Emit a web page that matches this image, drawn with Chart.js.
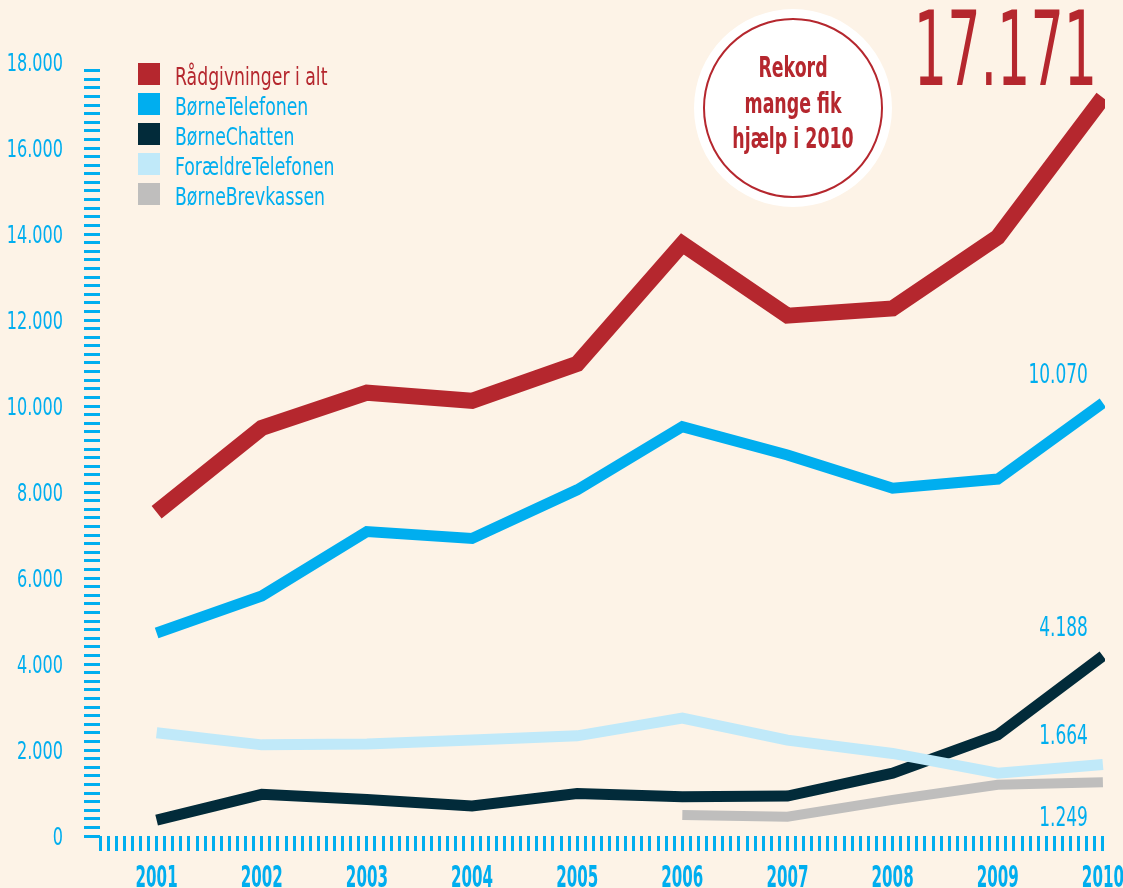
<!DOCTYPE html>
<html lang="da">
<head>
<meta charset="UTF-8" />
<title>Rådgivninger 2001-2010</title>
<script src="https://cdn.jsdelivr.net/npm/chart.js"></script>
<style>
  html, body { margin: 0; padding: 0; background: #fdf3e7; overflow: hidden; }
  #chart { display: block; }
</style>
</head>
<body>
<canvas id="chart" width="1123" height="888"></canvas>
<script>
const years = [2001, 2002, 2003, 2004, 2005, 2006, 2007, 2008, 2009, 2010];
const seriesNames = ["Rådgivninger i alt", "BørneTelefonen", "BørneChatten", "ForældreTelefonen", "BørneBrevkassen"];
const raadgivninger = [7530, 9490, 10310, 10120, 10980, 13770, 12100, 12270, 13930, 17171];
const borneTelefonen = [4720, 5580, 7080, 6920, 8050, 9520, 8860, 8090, 8300, 10070];
const borneChatten = [370, 970, 850, 700, 990, 910, 930, 1460, 2350, 4188];
const foraeldreTelefonen = [2400, 2120, 2140, 2230, 2330, 2740, 2230, 1920, 1460, 1664];
const borneBrevkassen = [null, null, null, null, null, 490, 450, 840, 1190, 1249];
const yTickLabels = ["0", "2.000", "4.000", "6.000", "8.000", "10.000", "12.000", "14.000", "16.000", "18.000"];
const calloutLines = ["Rekord", "mange fik", "hjælp i 2010"];

const RED = "#b5272e";
const CYAN = "#00aeef";
const DARK = "#022b3a";
const LIGHT = "#c0e9f9";
const GREY = "#bfbebd";
const FONT = '"DejaVu Sans Condensed", "DejaVu Sans", sans-serif';

function fmt(v) {
    return String(v).replace(/\B(?=(\d{3})+(?!\d))/g, ".");
}

function toPoints(values) {
    return years.map((yr, i) => ({ x: yr, y: values[i] }));
}

// the original uses a very narrow type, so squeeze the text sideways
function squeezed(ctx, text, x, y, sx, align) {
    ctx.save();
    ctx.translate(x, y);
    ctx.scale(sx, 1);
    ctx.textAlign = align;
    ctx.fillText(text, 0, 0);
    ctx.restore();
}

// extra drawing: tick labels, legend, end values, the round badge and the big total
const decorations = {
    id: "decorations",
    afterDraw(chart) {
        const ctx = chart.ctx;
        const xs = chart.scales.x;
        const ys = chart.scales.y;
        const sets = chart.data.datasets;
        ctx.save();
        ctx.textBaseline = "alphabetic";

        // y tick labels
        ctx.fillStyle = CYAN;
        ctx.font = "25px " + FONT;
        yTickLabels.forEach((lbl, i) => {
            const py = ys.getPixelForValue(i * 2000);
            squeezed(ctx, lbl, 63, py + 9, 0.715, "right");
        });

        // x tick labels
        ctx.font = "bold 30px " + FONT;
        years.forEach((yr) => {
            squeezed(ctx, String(yr), xs.getPixelForValue(yr), 887, 0.56, "center");
        });

        // legend
        ctx.font = "24px " + FONT;
        sets.forEach((ds, i) => {
            const top = 63 + i * 30;
            ctx.fillStyle = ds.borderColor;
            ctx.fillRect(138, top, 22, 22);
            ctx.fillStyle = i === 0 ? RED : CYAN;
            squeezed(ctx, ds.label, 175, top + 22, 0.8, "left");
        });

        // values at the last year
        ctx.font = "27px " + FONT;
        ctx.fillStyle = CYAN;
        const px = xs.getPixelForValue(years[years.length - 1]);
        [1, 2, 3, 4].forEach((i) => {
            const v = sets[i].data[sets[i].data.length - 1].y;
            const py = ys.getPixelForValue(v);
            const below = i === 4;
            squeezed(ctx, fmt(v), px - 15, below ? py + 44 : py - 20, 0.7, "right");
        });

        // badge
        ctx.beginPath();
        ctx.arc(793, 108, 99, 0, Math.PI * 2);
        ctx.fillStyle = "#ffffff";
        ctx.fill();
        ctx.beginPath();
        ctx.arc(793, 108, 89, 0, Math.PI * 2);
        ctx.strokeStyle = RED;
        ctx.lineWidth = 2;
        ctx.stroke();
        ctx.fillStyle = RED;
        ctx.font = "bold 28px " + FONT;
        const baselines = [77, 113, 148];
        calloutLines.forEach((t, i) => squeezed(ctx, t, 793, baselines[i], 0.69, "center"));

        // big total
        const total = sets[0].data[sets[0].data.length - 1].y;
        ctx.font = "103px " + FONT;
        squeezed(ctx, fmt(total), 1097, 85, 0.565, "right");

        ctx.restore();
    }
};

const xMin = years[0] - 7 / 13;
const xMax = years[years.length - 1] + 0.02;

const ctx = document.getElementById("chart").getContext("2d");
const chart = new Chart(ctx, {
    type: "line",
    data: {
        datasets: [
            { label: seriesNames[0], data: toPoints(raadgivninger), borderColor: RED, backgroundColor: RED, borderWidth: 16, order: 0 },
            { label: seriesNames[1], data: toPoints(borneTelefonen), borderColor: CYAN, backgroundColor: CYAN, borderWidth: 11, order: 0 },
            { label: seriesNames[2], data: toPoints(borneChatten), borderColor: DARK, backgroundColor: DARK, borderWidth: 11, order: 1 },
            { label: seriesNames[3], data: toPoints(foraeldreTelefonen), borderColor: LIGHT, backgroundColor: LIGHT, borderWidth: 11, order: 0 },
            { label: seriesNames[4], data: toPoints(borneBrevkassen), borderColor: GREY, backgroundColor: GREY, borderWidth: 10, order: 0 }
        ]
    },
    options: {
        responsive: false,
        animation: false,
        events: [],
        layout: { padding: { top: 62, right: 18, left: 0, bottom: 0 } },
        elements: {
            line: { tension: 0, fill: false, borderCapStyle: "butt", borderJoinStyle: "miter" },
            point: { radius: 0, hoverRadius: 0 }
        },
        plugins: {
            legend: { display: false },
            tooltip: { enabled: false }
        },
        scales: {
            x: {
                type: "linear",
                min: xMin,
                max: xMax,
                bounds: "data",
                border: { display: false },
                grid: { drawOnChartArea: false, drawTicks: true, tickLength: 15, tickWidth: 3, tickColor: CYAN },
                ticks: { display: false, autoSkip: false, maxRotation: 0 },
                afterBuildTicks: (scale) => {
                    const t = [];
                    for (let k = -7; k <= (years.length - 1) * 13; k++) t.push({ value: years[0] + k / 13 });
                    scale.ticks = t;
                },
                afterFit: (scale) => {
                    scale.height = 52;
                    scale.paddingLeft = 0;
                    scale.paddingRight = 0;
                }
            },
            y: {
                min: 0,
                max: 18000,
                bounds: "data",
                border: { display: false },
                grid: {
                    drawOnChartArea: false,
                    drawTicks: true,
                    tickLength: 16,
                    tickWidth: 3,
                    tickColor: (c) => (c.tick && c.tick.value >= 18000 ? "rgba(0,0,0,0)" : CYAN)
                },
                ticks: { display: false, autoSkip: false },
                afterBuildTicks: (scale) => {
                    const t = [];
                    for (let v = 0; v <= 18000; v += 200) t.push({ value: v });
                    scale.ticks = t;
                },
                afterFit: (scale) => {
                    scale.width = 100;
                    scale.paddingTop = 0;
                    scale.paddingBottom = 0;
                }
            }
        }
    },
    plugins: [decorations]
});
</script>
</body>
</html>
